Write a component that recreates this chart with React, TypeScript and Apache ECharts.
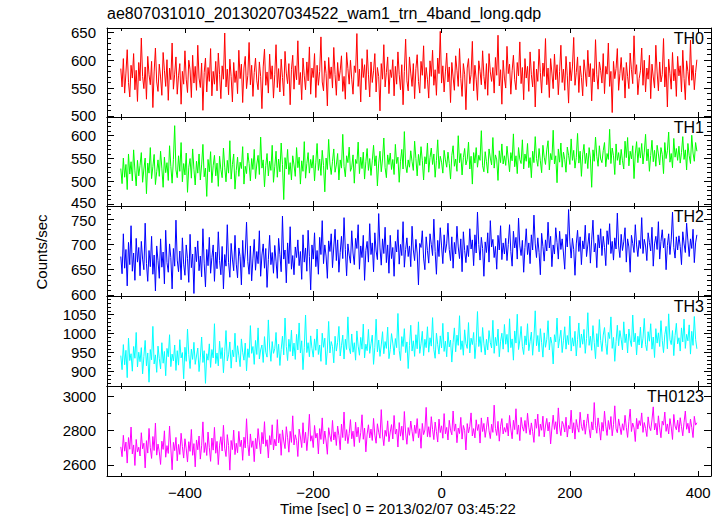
import React, { useEffect, useRef } from "react";
import * as echarts from "echarts";

const TITLE = "ae807031010_20130207034522_wam1_trn_4band_long.qdp";
const X_NAME = "Time [sec] 0 = 2013/02/07 03:45:22";
const Y_NAME = "Counts/sec";
const BAND_NAMES = ["TH0", "TH1", "TH2", "TH3", "TH0123"];
const X_TICKS = [-400, -200, 0, 200, 400];

// time bins: first bin at -500 s, one bin every 2 s
const T_START = -500;
const T_STEP = 2;

const TH0 = [
  585, 552, 603, 541, 577, 619, 560, 534, 591, 568, 612, 547, 582, 526, 596,
  563, 640, 571, 549, 588, 530, 607, 574, 556, 598, 515, 579, 622, 561, 544,
  593, 570, 537, 614, 582, 553, 601, 528, 586, 565, 631, 548, 575, 606, 539,
  572, 594, 521, 580, 557, 617, 566, 542, 600, 583, 533, 609, 559, 589, 546,
  627, 568, 551, 595, 510, 578, 604, 543, 587, 562, 621, 536, 580, 557, 598,
  545, 613, 574, 531, 590, 566, 649, 552, 584, 538, 602, 571, 525, 596, 560,
  581, 540, 618, 567, 593, 524, 586, 607, 549, 573, 632, 556, 591, 535, 578,
  604, 563, 547, 597, 571, 513, 588, 620, 555, 579, 541, 611, 566, 590, 532,
  574, 628, 551, 585, 543, 602, 569, 536, 616, 577, 558, 594, 520, 583, 609,
  548, 590, 565, 635, 556, 578, 529, 604, 572, 547, 597, 563, 624, 539, 586,
  569, 612, 533, 591, 555, 580, 642, 561, 545, 599, 576, 518, 605, 567, 588,
  550, 623, 574, 537, 596, 563, 581, 608, 544, 571, 530, 614, 585, 557, 600,
  566, 539, 590, 578, 648, 553, 584, 525, 603, 569, 592, 547, 619, 575, 534,
  597, 560, 581, 612, 543, 587, 571, 509, 594, 566, 628, 552, 578, 606, 540,
  583, 569, 601, 536, 589, 557, 615, 574, 547, 592, 520, 580, 638, 563, 545,
  606, 577, 553, 594, 531, 585, 610, 562, 541, 598, 573, 626, 549, 587, 566,
  532, 599, 571, 618, 555, 583, 537, 604, 576, 652, 559, 590, 543, 579, 613,
  561, 588, 524, 596, 570, 546, 608, 582, 553, 621, 567, 535, 594, 575, 511,
  586, 603, 558, 574, 634, 545, 591, 566, 528, 599, 580, 556, 617, 571, 548,
  594, 537, 612, 579, 562, 587, 541, 605, 573, 645, 554, 583, 521, 600, 568,
  550, 625, 576, 593, 539, 581, 609, 565, 547, 596, 572, 633, 558, 587, 529,
  603, 568, 589, 544, 615, 574, 552, 598, 516, 584, 562, 620, 578, 541, 595,
  571, 639, 556, 586, 533, 603, 577, 549, 611, 565, 592, 538, 580, 627, 560,
  584, 546, 607, 572, 523, 597, 563, 588, 641, 555, 578, 606, 542, 590, 569,
  536, 601, 579, 553, 618, 570, 594, 527, 585, 561, 637, 574, 548, 597, 582,
  559, 612, 540, 589, 575, 631, 553, 580, 506, 598, 567, 585, 621, 546, 576,
  605, 564, 587, 532, 596, 571, 549, 613, 583, 558, 644, 575, 592, 538, 567,
  581, 622, 555, 600, 543, 586, 566, 609, 531, 593, 570, 550, 627, 579, 545,
  597, 561, 574, 639, 552, 588, 516, 602, 576, 548, 614, 563, 584, 535, 607,
  572, 590, 543, 618, 567, 529, 599, 580, 555, 636, 564, 591, 547, 578, 601,
];

const TH1 = [
  528, 495, 551, 509, 537, 482, 560, 516, 543, 501, 569, 523, 490, 546, 512,
  535, 563, 498, 527, 551, 473, 540, 518, 574, 506, 532, 559, 493, 521, 547,
  511, 566, 529, 487, 553, 519, 541, 502, 578, 533, 496, 548, 622, 525, 508,
  556, 522, 585, 499, 539, 514, 562, 476, 531, 550, 507, 571, 526, 492, 544,
  518, 560, 503, 536, 581, 510, 529, 467, 548, 521, 565, 497, 534, 557, 512,
  540, 489, 555, 526, 508, 573, 531, 499, 546, 518, 589, 505, 537, 560, 483,
  524, 553, 511, 542, 528, 576, 494, 533, 517, 562, 539, 501, 550, 526, 570,
  506, 538, 557, 515, 597, 529, 547, 488, 535, 561, 512, 544, 524, 579, 498,
  532, 566, 509, 549, 521, 584, 537, 460, 552, 527, 570, 515, 541, 503, 556,
  536, 511, 574, 530, 553, 494, 545, 522, 587, 507, 539, 563, 518, 548, 529,
  557, 501, 542, 583, 524, 549, 513, 568, 535, 477, 551, 526, 592, 538, 515,
  544, 571, 520, 536, 561, 503, 547, 529, 603, 533, 510, 556, 541, 575, 522,
  531, 558, 496, 548, 539, 586, 517, 553, 528, 564, 505, 543, 572, 524, 550,
  513, 545, 579, 534, 556, 490, 540, 566, 521, 549, 595, 530, 508, 558, 537,
  562, 526, 548, 515, 581, 539, 553, 498, 544, 570, 527, 609, 536, 519, 547,
  531, 567, 543, 524, 588, 550, 512, 559, 535, 576, 546, 503, 554, 538, 584,
  520, 552, 573, 537, 560, 509, 546, 591, 528, 555, 542, 518, 568, 547, 531,
  564, 539, 505, 557, 578, 533, 549, 522, 600, 541, 561, 514, 552, 572, 536,
  548, 586, 527, 555, 494, 563, 540, 574, 531, 557, 546, 611, 534, 521, 565,
  543, 518, 571, 551, 536, 596, 529, 558, 547, 502, 567, 541, 582, 538, 556,
  535, 577, 549, 521, 563, 545, 604, 532, 556, 517, 574, 548, 539, 591, 527,
  560, 544, 583, 530, 552, 508, 566, 541, 598, 550, 533, 572, 545, 519, 579,
  553, 537, 569, 589, 525, 561, 547, 612, 538, 556, 497, 571, 542, 584, 531,
  564, 548, 520, 575, 557, 537, 593, 546, 568, 529, 552, 605, 540, 566, 511,
  558, 581, 539, 562, 528, 574, 551, 487, 569, 544, 597, 555, 533, 578, 549,
  541, 567, 585, 532, 561, 548, 614, 539, 573, 556, 515, 582, 546, 563, 536,
  570, 545, 527, 588, 552, 596, 534, 566, 549, 578, 506, 560, 587, 541, 574,
  551, 583, 538, 564, 603, 545, 571, 522, 557, 590, 543, 568, 533, 579, 560,
  536, 574, 559, 517, 585, 550, 567, 608, 542, 561, 530, 594, 553, 572, 546,
  577, 540, 563, 598, 548, 569, 525, 583, 556, 539, 601, 562, 544, 585, 566,
];

const TH2 = [
  676, 642, 721, 653, 690, 618, 704, 660, 737, 647, 683, 629, 712, 665, 694,
  638, 706, 671, 650, 742, 662, 627, 688, 656, 716, 641, 679, 608, 697, 668,
  633, 711, 655, 685, 622, 728, 664, 645, 701, 674, 612, 692, 657, 748, 669,
  646, 687, 630, 713, 661, 639, 699, 672, 625, 720, 654, 681, 603, 695, 666,
  707, 648, 677, 636, 731, 663, 616, 690, 658, 714, 643, 674, 699, 627, 685,
  652, 725, 668, 640, 696, 612, 680, 657, 739, 664, 635, 702, 671, 648, 718,
  661, 634, 693, 676, 620, 708, 655, 683, 744, 666, 641, 697, 628, 673, 710,
  649, 686, 662, 727, 637, 679, 701, 653, 692, 615, 670, 718, 660, 684, 643,
  698, 667, 633, 712, 680, 646, 756, 671, 689, 624, 703, 662, 735, 651, 678,
  640, 695, 674, 709, 658, 686, 631, 719, 665, 693, 647, 728, 676, 610, 699,
  671, 723, 656, 688, 641, 714, 680, 747, 662, 699, 677, 633, 707, 686, 721,
  654, 695, 730, 668, 709, 645, 684, 716, 672, 753, 690, 638, 701, 679, 663,
  727, 683, 660, 712, 692, 739, 651, 697, 674, 718, 629, 688, 706, 665, 741,
  680, 703, 646, 723, 687, 670, 761, 693, 659, 711, 682, 734, 664, 699, 643,
  718, 672, 694, 637, 706, 685, 729, 661, 700, 678, 745, 655, 690, 713, 676,
  697, 656, 736, 689, 668, 710, 683, 620, 702, 694, 727, 673, 650, 715, 688,
  663, 721, 700, 678, 750, 686, 641, 708, 676, 733, 697, 662, 719, 684, 701,
  742, 690, 668, 715, 653, 704, 681, 736, 695, 672, 711, 646, 725, 688, 664,
  698, 676, 731, 691, 709, 658, 719, 683, 764, 700, 669, 714, 692, 637, 705,
  684, 723, 665, 747, 695, 710, 674, 696, 651, 718, 689, 737, 670, 703, 681,
  712, 668, 700, 739, 686, 657, 726, 693, 714, 671, 752, 697, 678, 708, 645,
  694, 731, 680, 703, 662, 719, 689, 758, 701, 674, 713, 684, 640, 722, 696,
  667, 709, 687, 744, 693, 716, 656, 699, 681, 733, 704, 671, 726, 690, 711,
  683, 651, 720, 695, 769, 705, 673, 712, 690, 639, 701, 728, 686, 715, 660,
  707, 691, 738, 676, 699, 722, 663, 709, 748, 685, 702, 654, 719, 693, 731,
  678, 716, 694, 658, 727, 700, 741, 682, 706, 669, 713, 691, 762, 697, 674,
  720, 688, 705, 733, 665, 711, 695, 645, 718, 702, 684, 739, 699, 676, 708,
  692, 753, 682, 710, 697, 668, 723, 704, 687, 734, 657, 701, 716, 690, 745,
  671, 706, 729, 693, 712, 650, 698, 721, 680, 709, 764, 694, 673, 715, 689,
  717, 696, 660, 725, 701, 684, 742, 707, 676, 711, 692, 730, 664, 703, 719,
];

const TH3 = [
  942, 905, 971, 918, 956, 884, 988, 929, 947, 901, 966, 935, 1003, 912, 951,
  926, 963, 894, 940, 982, 915, 949, 872, 958, 931, 1019, 920, 944, 898, 967,
  934, 907, 976, 922, 953, 889, 961, 939, 997, 913, 946, 928, 970, 903, 955,
  917, 984, 936, 950, 881, 964, 927, 1012, 945, 908, 959, 932, 977, 919, 941,
  962, 900, 938, 991, 924, 955, 869, 947, 930, 973, 911, 958, 936, 1026, 921,
  949, 915, 980, 934, 963, 897, 952, 1008, 928, 944, 978, 909, 957, 939, 1001,
  925, 968, 943, 913, 986, 951, 930, 975, 902, 960, 937, 1021, 948, 966, 919,
  982, 945, 1015, 933, 957, 970, 924, 992, 951, 938, 1036, 962, 927, 979, 948,
  960, 1003, 937, 972, 916, 958, 993, 944, 1041, 966, 929, 985, 953, 1009, 941,
  975, 932, 998, 957, 1028, 949, 981, 905, 963, 1049, 950, 976, 939, 994, 961,
  938, 986, 956, 1012, 945, 970, 927, 1001, 964, 988, 918, 957, 1032, 949, 979,
  966, 923, 993, 954, 977, 1019, 941, 968, 996, 933, 985, 958, 1044, 962, 947,
  999, 951, 976, 930, 1007, 967, 943, 990, 959, 1025, 936, 972, 955, 1011, 948,
  973, 996, 919, 964, 1038, 952, 983, 940, 970, 1005, 947, 979, 961, 1017, 934,
  958, 1000, 975, 944, 987, 963, 1053, 956, 929, 992, 966, 1013, 950, 978, 908,
  969, 1022, 954, 981, 940, 997, 960, 1031, 948, 973, 1006, 942, 985, 963, 1018,
  951, 989, 967, 1042, 958, 935, 1001, 971, 946, 994, 962, 1027, 953, 980, 939,
  1004, 965, 983, 925, 977, 1015, 952, 996, 969, 1047, 958, 981, 943, 1010, 974,
  961, 1029, 949, 988, 971, 1003, 934, 977, 1058, 966, 992, 951, 1016, 973, 944,
  985, 957, 1008, 976, 962, 1035, 948, 990, 968, 1012, 939, 980, 1001, 959, 1024,
  972, 998, 951, 1039, 963, 986, 930, 1007, 975, 1051, 958, 983, 1019, 966, 945,
  994, 970, 1026, 955, 979, 1004, 943, 988, 1060, 968, 995, 952, 1013, 976, 938,
  1002, 964, 985, 1034, 957, 991, 973, 920, 997, 978, 1041, 962, 986, 1009, 950,
  981, 1018, 959, 995, 971, 1046, 954, 989, 967, 1006, 941, 984, 1028, 963, 999,
  972, 1011, 948, 987, 1055, 969, 993, 956, 1021, 977, 934, 1000, 965, 1037, 982,
  953, 996, 1016, 974, 945, 1003, 987, 1044, 961, 990, 927, 979, 1022, 968, 1008,
  985, 957, 1031, 976, 999, 949, 1012, 983, 966, 1049, 978, 1001, 944, 993, 970,
  1017, 962, 988, 1040, 971, 955, 1005, 980, 1026, 959, 991, 937, 1013, 975, 1002,
  966, 1034, 982, 950, 997, 1019, 960, 1052, 984, 971, 1008, 942, 995, 1027, 973,
  989, 954, 1015, 978, 1038, 961, 998, 981, 1023, 946, 1006, 969, 1045, 985, 960,
];

const TH0123 = [
  2705, 2648, 2772, 2680, 2733, 2611, 2759, 2691, 2820, 2664, 2716, 2597, 2748, 2675, 2703,
  2652, 2787, 2694, 2726, 2583, 2741, 2669, 2812, 2700, 2638, 2765, 2684, 2843, 2657, 2721,
  2676, 2603, 2738, 2690, 2798, 2645, 2712, 2667, 2826, 2698, 2572, 2731, 2683, 2760, 2624,
  2719, 2661, 2784, 2707, 2640, 2752, 2693, 2617, 2735, 2679, 2806, 2656, 2724, 2589, 2745,
  2688, 2768, 2634, 2711, 2850, 2672, 2729, 2655, 2791, 2700, 2621, 2756, 2686, 2818, 2668,
  2737, 2602, 2715, 2764, 2681, 2830, 2697, 2649, 2776, 2713, 2570, 2742, 2689, 2802, 2660,
  2726, 2671, 2795, 2706, 2744, 2627, 2761, 2699, 2868, 2718, 2653, 2780, 2702, 2740, 2619,
  2754, 2694, 2811, 2733, 2665, 2789, 2722, 2851, 2708, 2746, 2641, 2770, 2717, 2833, 2687,
  2749, 2710, 2863, 2728, 2781, 2656, 2803, 2739, 2695, 2822, 2758, 2674, 2795, 2731, 2885,
  2716, 2775, 2743, 2649, 2808, 2762, 2701, 2845, 2727, 2790, 2683, 2767, 2894, 2738, 2770,
  2701, 2829, 2756, 2784, 2664, 2811, 2748, 2873, 2722, 2797, 2739, 2662, 2816, 2769, 2736,
  2858, 2745, 2792, 2713, 2826, 2771, 2688, 2837, 2759, 2907, 2741, 2805, 2724, 2782, 2863,
  2752, 2796, 2707, 2848, 2763, 2819, 2730, 2787, 2891, 2749, 2814, 2676, 2779, 2833, 2757,
  2808, 2742, 2870, 2773, 2726, 2839, 2790, 2755, 2921, 2774, 2712, 2801, 2766, 2856, 2735,
  2791, 2834, 2751, 2887, 2779, 2808, 2704, 2846, 2767, 2825, 2744, 2910, 2785, 2720, 2817,
  2772, 2855, 2795, 2738, 2831, 2783, 2869, 2758, 2810, 2697, 2841, 2776, 2803, 2934, 2764,
  2822, 2761, 2880, 2806, 2747, 2849, 2793, 2733, 2866, 2788, 2827, 2755, 2898, 2781, 2818,
  2745, 2859, 2802, 2775, 2913, 2796, 2838, 2729, 2814, 2782, 2876, 2750, 2829, 2801, 2687,
  2840, 2786, 2824, 2902, 2768, 2811, 2757, 2862, 2800, 2835, 2727, 2873, 2794, 2841, 2760,
  2815, 2878, 2799, 2753, 2836, 2789, 2947, 2812, 2771, 2853, 2738, 2825, 2869, 2780, 2817,
  2790, 2842, 2768, 2887, 2809, 2752, 2859, 2805, 2926, 2778, 2832, 2741, 2876, 2821, 2796,
  2858, 2784, 2900, 2819, 2775, 2844, 2793, 2731, 2866, 2813, 2895, 2766, 2837, 2801, 2883,
  2763, 2826, 2870, 2797, 2848, 2722, 2815, 2889, 2806, 2851, 2779, 2931, 2820, 2770, 2853,
  2835, 2791, 2877, 2762, 2829, 2809, 2918, 2786, 2845, 2750, 2864, 2818, 2790, 2906, 2824,
  2800, 2861, 2778, 2839, 2896, 2812, 2757, 2850, 2803, 2962, 2830, 2784, 2873, 2816, 2744,
  2847, 2796, 2912, 2825, 2771, 2858, 2806, 2881, 2769, 2834, 2943, 2810, 2787, 2867, 2822,
  2776, 2839, 2801, 2888, 2818, 2760, 2852, 2924, 2794, 2843, 2815, 2736, 2870, 2808, 2857,
  2829, 2902, 2789, 2846, 2812, 2765, 2879, 2820, 2799, 2861, 2937, 2803, 2842, 2774, 2885,
  2815, 2758, 2854, 2831, 2907, 2795, 2838, 2780, 2869, 2821, 2748, 2893, 2826, 2804, 2860,
  2790, 2874, 2822, 2769, 2848, 2913, 2807, 2842, 2785, 2866, 2818, 2759, 2882, 2831, 2845,
];

const SERIES_VALUES = [TH0, TH1, TH2, TH3, TH0123];

// Axis ranges
const Y_MIN = [498, 446, 598, 862, 2536];
const Y_MAX = [658, 641, 776, 1099, 3058];
const Y_MAJOR = [50, 50, 50, 50, 200];
const Y_MINOR_SPLIT = [5, 5, 5, 5, 2];
const X_MIN = -521.5;
const X_MAX = 420;

// styling
const COLORS = ["#ff0000", "#00ff00", "#0000ff", "#00ffff", "#ff00ff"];
const FONT = "'Liberation Sans', Arial, Helvetica, sans-serif";
const GRID_LEFT = 107;
const GRID_RIGHT = 711;
const GRID_TOPS = [28, 117, 206, 296, 386];
const GRID_BOTTOM = 476;
const AXIS_COLOR = "#000";
// tiny vertical nudges so that labels sitting on a shared panel edge don't collide
const NUDGE_LOWEST_UP = [false, true, false, false, false];
const NUDGE_HIGHEST_DOWN = [false, false, true, false, false];

const fmtNum = (v: number) => (v < 0 ? "\u2212" + String(-v) : String(v));

export default function App() {
  const ref = useRef<HTMLDivElement>(null);

  useEffect(() => {
    document.body.style.margin = "0";
    if (!ref.current) return;
    const chart = echarts.init(ref.current, undefined, { renderer: "svg" });

    const grids: any[] = [];
    const xAxes: any[] = [];
    const yAxes: any[] = [];
    const series: any[] = [];
    const graphics: any[] = [];

    for (let i = 0; i < 5; i++) {
      const top = GRID_TOPS[i];
      const bottom = i < 4 ? GRID_TOPS[i + 1] : GRID_BOTTOM;
      grids.push({
        left: GRID_LEFT,
        top,
        width: GRID_RIGHT - GRID_LEFT,
        height: bottom - top,
        containLabel: false,
        show: false,
      });
      const xBase = {
        type: "value",
        gridIndex: i,
        min: X_MIN,
        max: X_MAX,
        splitNumber: 5,
        minInterval: 200,
        maxInterval: 200,
        splitLine: { show: false },
        minorSplitLine: { show: false },
        axisLine: { show: true, onZero: false, lineStyle: { color: AXIS_COLOR, width: 1 } },
        axisTick: { show: true, inside: true, length: 5, lineStyle: { color: AXIS_COLOR, width: 1 } },
        minorTick: { show: true, splitNumber: 2, length: 3, lineStyle: { color: AXIS_COLOR, width: 1 } },
      };
      xAxes.push({
        ...xBase,
        position: "bottom",
        axisLabel: {
          show: i === 4,
          color: "#000",
          fontSize: 15,
          fontFamily: FONT,
          margin: 9,
          formatter: (v: number) => (X_TICKS.indexOf(v) >= 0 ? fmtNum(v) : ""),
        },
      });
      xAxes.push({
        ...xBase,
        position: "top",
        axisLabel: { show: false },
      });
      const major = Y_MAJOR[i];
      const lo = Y_MIN[i];
      const hi = Y_MAX[i];
      const lowest = Math.ceil(lo / major) * major;
      const highest = Math.floor(hi / major) * major;
      const yBase = {
        type: "value",
        gridIndex: i,
        min: lo,
        max: hi,
        splitNumber: 3,
        minInterval: major,
        maxInterval: major,
        scale: true,
        splitLine: { show: false },
        minorSplitLine: { show: false },
        axisLine: { show: true, onZero: false, lineStyle: { color: AXIS_COLOR, width: 1 } },
        axisTick: { show: true, inside: true, length: 7, lineStyle: { color: AXIS_COLOR, width: 1 } },
        minorTick: {
          show: true,
          splitNumber: Y_MINOR_SPLIT[i],
          length: 4,
          lineStyle: { color: AXIS_COLOR, width: 1 },
        },
      };
      yAxes.push({
        ...yBase,
        position: "left",
        axisLabel: {
          show: true,
          color: "#000",
          fontSize: 15,
          fontFamily: FONT,
          margin: 11,
          rich: {
            up: { fontSize: 15, fontFamily: FONT, color: "#000", padding: [0, 0, 3, 0] },
            down: { fontSize: 15, fontFamily: FONT, color: "#000", padding: [3, 0, 0, 0] },
          },
          formatter: (v: number) => {
            if (!(v > lo && v < hi && Math.abs(v % major) < 1e-6)) return "";
            if (v === lowest && NUDGE_LOWEST_UP[i]) return `{up|${v}}`;
            if (v === highest && NUDGE_HIGHEST_DOWN[i]) return `{down|${v}}`;
            return String(v);
          },
        },
      });
      yAxes.push({
        ...yBase,
        position: "right",
        axisLabel: { show: false },
      });

      series.push({
        type: "line",
        name: BAND_NAMES[i],
        xAxisIndex: i * 2,
        yAxisIndex: i * 2,
        showSymbol: false,
        symbol: "none",
        lineStyle: { color: COLORS[i], width: 1 },
        itemStyle: { color: COLORS[i] },
        data: SERIES_VALUES[i].map((v, k) => [T_START + k * T_STEP, v]),
        z: 1,
      });

      graphics.push({
        type: "text",
        right: 724 - 704,
        top: top + 2,
        style: {
          text: BAND_NAMES[i],
          fill: "#000",
          font: `16px ${FONT}`,
        },
        z: 10,
      });
    }

    graphics.push({
      type: "text",
      left: GRID_LEFT,
      top: 5,
      style: { text: TITLE, fill: "#000", font: `16px ${FONT}` },
    });
    graphics.push({
      type: "text",
      x: 398,
      y: 508,
      style: {
        text: X_NAME,
        fill: "#000",
        font: `15px ${FONT}`,
        align: "center",
        verticalAlign: "middle",
      },
    });
    graphics.push({
      type: "text",
      x: 41,
      y: 252,
      rotation: Math.PI / 2,
      style: {
        text: Y_NAME,
        fill: "#000",
        font: `15px ${FONT}`,
        align: "center",
        verticalAlign: "middle",
      },
    });

    chart.setOption({
      animation: false,
      backgroundColor: "#ffffff",
      grid: grids,
      xAxis: xAxes,
      yAxis: yAxes,
      series,
      graphic: graphics,
    });

    return () => chart.dispose();
  }, []);

  return (
    <div
      ref={ref}
      style={{ position: "fixed", left: 0, top: 0, width: 724, height: 516, background: "#fff" }}
    />
  );
}
